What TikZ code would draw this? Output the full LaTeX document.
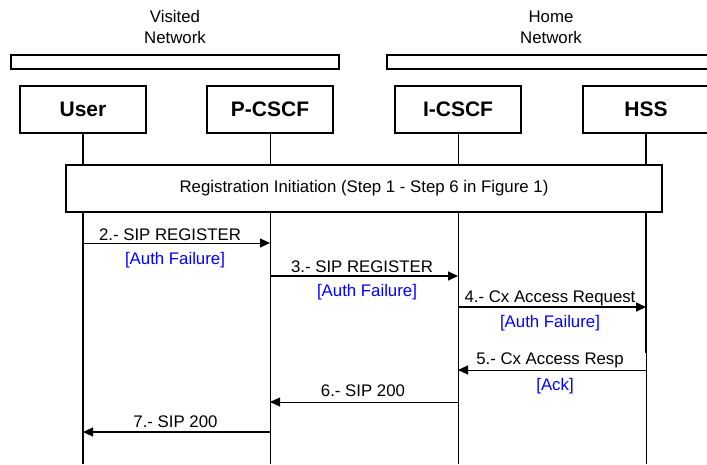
\documentclass[tikz,border=0pt]{standalone}
\usepackage{fontspec}
\setmainfont{Liberation Sans}
\usetikzlibrary{arrows.meta}
\begin{document}
\begin{tikzpicture}[x=1pt,y=-1pt,
  ent/.style={draw,line width=1.4pt,minimum width=126pt,minimum height=47pt,inner sep=0pt,font=\fontsize{21}{24}\selectfont\bfseries},
  bar/.style={draw,line width=1.2pt,inner sep=0pt,minimum height=14pt},
  life/.style={line width=1pt},
  msg/.style={line width=1pt,-{Triangle[length=10pt,width=9pt]}},
  lbl/.style={anchor=base,inner sep=0pt,font=\fontsize{16.8}{19}\selectfont},
  note/.style={lbl,text=blue}
]
\useasboundingbox (0,0) rectangle (707,464);

% network headers
\node[lbl] (vis1) at (175,22) {Visited};
\node[lbl] (vis2) at (175,43) {Network};
\node[lbl] (home1) at (551,22) {Home};
\node[lbl] (home2) at (551,43) {Network};
\node[bar,minimum width=328pt] (vbar) at (175,62) {};
\node[bar,minimum width=330pt] (hbar) at (552,62) {};

% entities
\node[ent] (user) at (83,109.5) {User};
\node[ent] (pcscf) at (270,109.5) {P-CSCF};
\node[ent] (icscf) at (458,109.5) {I-CSCF};
\node[ent] (hss) at (646,109.5) {HSS};

% lifelines
\draw[life,line width=1.3pt] (user.south) -- (user.south |- 0,464);
\draw[life] (pcscf.south) -- (pcscf.south |- 0,464);
\draw[life] (icscf.south) -- (icscf.south |- 0,464);
\coordinate (hssbrk) at (hss.south |- 0,353);
\draw[life,line width=1.5pt] (hss.south) -- (hssbrk);
\draw[life,line width=0.8pt] (hssbrk) -- (hss.south |- 0,464);

% registration initiation box
\node[draw,fill=white,line width=1.2pt,minimum width=596pt,minimum height=47pt,inner sep=0pt,
      font=\fontsize{16.8}{19}\selectfont] (reg) at (364,188.5)
      {Registration Initiation (Step 1 - Step 6 in Figure 1)};

% messages
\draw[msg] (user |- 0,243) -- (pcscf |- 0,243);
\node[lbl] (m2) at (170,240) {2.- SIP REGISTER};
\node[note] (m2n) at (175,264) {[Auth Failure]};

\draw[msg,line width=1.6pt] (pcscf |- 0,276) -- (icscf |- 0,276);
\node[lbl] (m3) at (362,272) {3.- SIP REGISTER};
\node[note] (m3n) at (367,296) {[Auth Failure]};

\draw[msg,line width=1.6pt] (icscf |- 0,307) -- (hss |- 0,307);
\node[lbl] (m4) at (550,302) {4.- Cx Access Request};
\node[note] (m4n) at (550,327) {[Auth Failure]};

\draw[msg,line width=0.9pt] (hss |- 0,370) -- (icscf |- 0,370);
\node[lbl] (m5) at (550,364) {5.- Cx Access Resp};
\node[note] (m5n) at (555,390) {[Ack]};

\draw[msg,line width=0.9pt] (icscf |- 0,402) -- (pcscf |- 0,402);
\node[lbl] (m6) at (363,396) {6.- SIP 200};

\draw[msg,line width=1.1pt] (pcscf |- 0,432) -- (user |- 0,432);
\node[lbl] (m7) at (175.5,427) {7.- SIP 200};
\end{tikzpicture}
\end{document}
